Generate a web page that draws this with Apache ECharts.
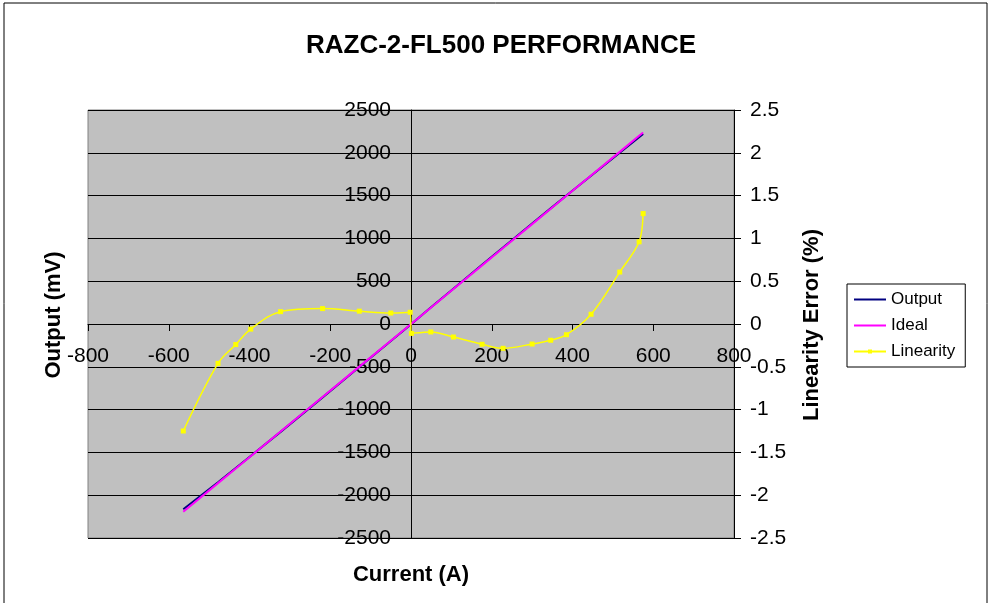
<!DOCTYPE html>
<html>
<head>
<meta charset="utf-8">
<script src="https://cdn.jsdelivr.net/npm/echarts@6/dist/echarts.min.js"></script>
<style>
html, body { margin: 0; padding: 0; background: #fff; }
#chart { width: 990px; height: 603px; }
</style>
</head>
<body>
<div id="chart"></div>
<script>
// current (A) at each measured point
var currents = [-564, -478, -434, -397, -323, -219, -128, -50, -2, 1, 49, 105, 176, 228, 300, 346, 385, 446, 517, 565, 575];
// sensor output (mV)
var outputMv = [-2165, -1848, -1682, -1542, -1260, -857, -502, -198, -11, 7, 193, 412, 691, 894, 1173, 1351, 1501, 1732, 2002, 2183, 2220];
// ideal output (mV)
var idealMv = [-2194, -1859, -1688, -1544, -1256, -852, -498, -195, -8, 4, 191, 408, 685, 887, 1167, 1346, 1498, 1735, 2011, 2198, 2237];
// linearity error (%)
var linearityPct = [-1.25, -0.46, -0.24, -0.06, 0.144, 0.18, 0.15, 0.128, 0.137, -0.11, -0.093, -0.152, -0.237, -0.284, -0.234, -0.19, -0.125, 0.114, 0.607, 0.96, 1.29];

var seriesNames = ['Output', 'Ideal', 'Linearity'];
var xRange = [-800, 800, 200];
var mvRange = [-2500, 2500, 500];
var pctRange = [-2.5, 2.5, 0.5];

var FONT = '"Liberation Sans", Arial, sans-serif';

function pairs(ys) {
  return currents.map(function (c, i) { return [c, ys[i]]; });
}
function plain(v) { return String(v); }

var chart = echarts.init(document.getElementById('chart'));
var option = {
  animation: false,
  backgroundColor: '#fff',
  textStyle: { fontFamily: FONT },
  grid: {
    left: 88, right: 256, top: 110, bottom: 65,
    show: true,
    backgroundColor: '#C0C0C0',
    borderColor: '#808080',
    borderWidth: 1
  },
  legend: {
    data: [
      { name: 'Output', itemStyle: { opacity: 0 } },
      { name: 'Ideal', itemStyle: { opacity: 0 } },
      { name: 'Linearity' }
    ],
    orient: 'vertical',
    left: 847,
    top: 284,
    padding: [7, 10, 7, 6],
    itemGap: 9,
    itemWidth: 32,
    itemHeight: 5,
    borderColor: '#000',
    borderWidth: 1,
    backgroundColor: '#fff',
    textStyle: { fontSize: 17, color: '#000', fontFamily: FONT }
  },
  xAxis: {
    type: 'value',
    min: xRange[0], max: xRange[1], interval: xRange[2],
    axisLine: { onZero: true, lineStyle: { color: '#000', width: 1 } },
    axisTick: { length: 7, lineStyle: { color: '#000' } },
    // labels sit under the zero line, not at the grid's bottom edge
    axisLabel: { color: '#000', fontSize: 21, margin: -192, fontFamily: FONT, formatter: plain },
    splitLine: { show: false }
  },
  yAxis: [
    {
      type: 'value',
      min: mvRange[0], max: mvRange[1], interval: mvRange[2],
      axisLine: { show: true, onZero: true, lineStyle: { color: '#000', width: 1 } },
      axisTick: { show: true, length: 7, lineStyle: { color: '#000' } },
      axisLabel: { color: '#000', fontSize: 21, margin: -303, fontFamily: FONT, formatter: plain },
      splitLine: { show: true, lineStyle: { color: '#000', width: 1 } }
    },
    {
      type: 'value',
      position: 'right',
      min: pctRange[0], max: pctRange[1], interval: pctRange[2],
      axisLine: { show: true, onZero: false, lineStyle: { color: '#000', width: 1 } },
      axisTick: { show: true, length: 7, lineStyle: { color: '#000' } },
      axisLabel: { color: '#000', fontSize: 21, margin: 16, fontFamily: FONT, formatter: plain },
      splitLine: { show: false }
    }
  ],
  series: [
    {
      name: 'Output',
      type: 'line',
      yAxisIndex: 0,
      data: pairs(outputMv),
      symbol: 'none',
      lineStyle: { color: '#000080', width: 2 },
      itemStyle: { color: '#000080' }
    },
    {
      name: 'Ideal',
      type: 'line',
      yAxisIndex: 0,
      data: pairs(idealMv),
      symbol: 'none',
      lineStyle: { color: '#FF00FF', width: 2 },
      itemStyle: { color: '#FF00FF' }
    },
    {
      name: 'Linearity',
      type: 'line',
      yAxisIndex: 1,
      data: pairs(linearityPct),
      smooth: 0.35,
      symbol: 'rect',
      symbolSize: 5,
      lineStyle: { color: '#FFFF00', width: 1.5 },
      itemStyle: { color: '#FFFF00' }
    }
  ],
  graphic: [
    {
      type: 'rect',
      shape: { x: 4, y: 3, width: 983, height: 640 },
      style: { fill: 'none', stroke: '#000', lineWidth: 1 },
      silent: true
    },
    {
      type: 'text', x: 501, y: 46,
      style: { text: 'RAZC-2-FL500 PERFORMANCE', fontSize: 26, fontWeight: 'bold', fontFamily: FONT, fill: '#000', align: 'center', verticalAlign: 'middle' }
    },
    {
      type: 'text', x: 411, y: 575,
      style: { text: 'Current (A)', fontSize: 22, fontWeight: 'bold', fontFamily: FONT, fill: '#000', align: 'center', verticalAlign: 'middle' }
    },
    {
      type: 'text', x: 54, y: 315, rotation: Math.PI / 2,
      style: { text: 'Output (mV)', fontSize: 22, fontWeight: 'bold', fontFamily: FONT, fill: '#000', align: 'center', verticalAlign: 'middle' }
    },
    {
      type: 'text', x: 812, y: 325, rotation: Math.PI / 2,
      style: { text: 'Linearity Error (%)', fontSize: 22, fontWeight: 'bold', fontFamily: FONT, fill: '#000', align: 'center', verticalAlign: 'middle' }
    }
  ]
};
chart.setOption(option);
</script>
</body>
</html>
